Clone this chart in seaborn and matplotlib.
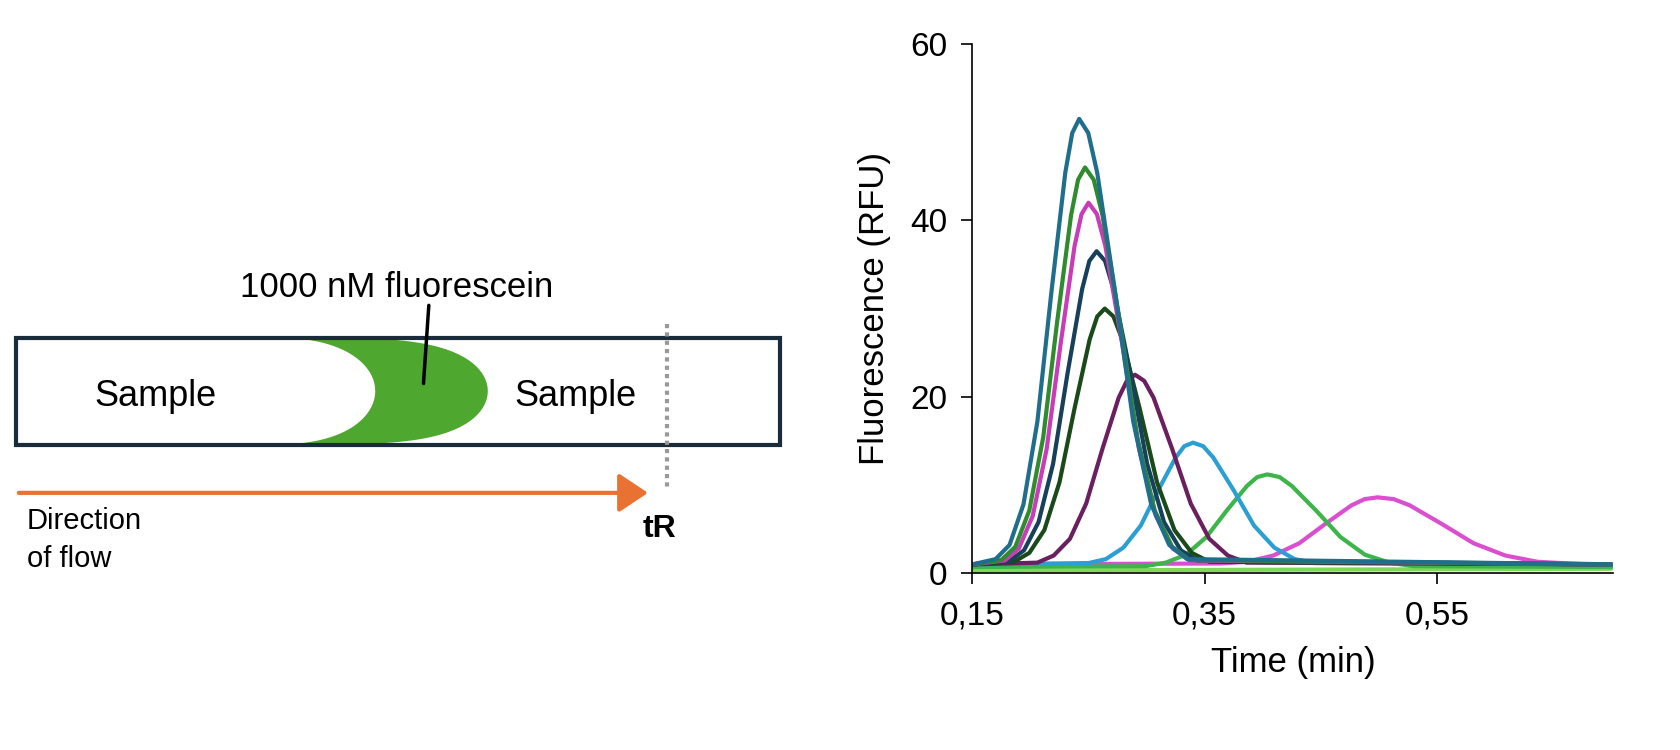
import matplotlib
matplotlib.use("Agg")
import matplotlib.pyplot as plt
import seaborn as sns
import numpy as np
import pandas as pd
from matplotlib.patches import Rectangle, Polygon, FancyArrowPatch

sns.set_style("white")
plt.rcParams['font.family'] = ['Liberation Sans', 'DejaVu Sans']
plt.rcParams['text.color'] = 'black'
plt.rcParams['xtick.color'] = 'black'
plt.rcParams['ytick.color'] = 'black'
plt.rcParams['axes.labelcolor'] = 'black'

# ---- data ----
s1_t = [0.15,0.170,0.182,0.194,0.206,0.218,0.230,0.236,0.242,0.2498,0.2575,0.273,0.2885,0.304,0.3195,0.335,0.70]
s1_v = [1,1.6,3.2,7.8,17.2,31.8,45.4,49.9,51.5,49.9,45.4,31.8,17.2,7.8,3.2,1.6,1]
s2_t = [0.15,0.175,0.187,0.199,0.211,0.223,0.235,0.241,0.247,0.2545,0.262,0.277,0.292,0.307,0.322,0.337,0.70]
s2_v = [1,1.5,3.0,7.1,15.4,28.5,40.6,44.6,46,44.6,40.6,28.5,15.4,7.1,3.0,1.5,1]
s3_t = [0.15,0.178,0.190,0.202,0.214,0.226,0.238,0.244,0.250,0.25725,0.2645,0.279,0.2935,0.308,0.3225,0.337,0.70]
s3_v = [1,1.45,2.8,6.5,14.1,26,37.1,40.7,42,40.7,37.1,26,14.1,6.5,2.8,1.45,1]
s4_t = [0.15,0.182,0.1945,0.207,0.2195,0.232,0.2445,0.25075,0.257,0.26425,0.2715,0.286,0.3005,0.315,0.3295,0.344,0.70]
s4_v = [1,1.4,2.6,5.8,12.4,22.7,32.2,35.4,36.5,35.4,32.2,22.7,12.4,5.8,2.6,1.4,1]
s5_t = [0.15,0.186,0.199,0.212,0.225,0.238,0.251,0.2575,0.264,0.2715,0.279,0.294,0.309,0.324,0.339,0.354,0.70]
s5_v = [1,1.3,2.3,4.9,10.3,18.7,26.5,29.1,30,29.1,26.5,18.7,10.3,4.9,2.3,1.3,1]
s6_t = [0.15,0.206,0.22,0.234,0.248,0.262,0.276,0.283,0.290,0.298,0.306,0.322,0.338,0.354,0.370,0.386,0.70]
s6_v = [1,1.2,2.0,3.9,7.9,14.1,19.9,21.8,22.5,21.8,19.9,14.1,7.9,3.9,2.0,1.2,1]
s7_t = [0.15,0.25,0.265,0.28,0.295,0.31,0.325,0.3325,0.340,0.34875,0.3575,0.375,0.3925,0.41,0.4275,0.445,0.70]
s7_v = [1,1.15,1.6,2.9,5.4,9.4,13.1,14.4,14.8,14.4,13.1,9.4,5.4,2.9,1.6,1.15,1]
s8_t = [0.15,0.299,0.3165,0.334,0.3515,0.369,0.3865,0.39525,0.404,0.4145,0.425,0.446,0.467,0.488,0.509,0.530,0.70]
s8_v = [0.7,0.8,1.2,2.1,4.1,7.1,9.9,10.9,11.2,10.9,9.9,7.1,4.1,2.1,1.2,0.8,0.7]
s9_t = [0.15,0.364,0.3865,0.409,0.4315,0.454,0.4765,0.48775,0.499,0.51275,0.5265,0.554,0.5815,0.609,0.6365,0.664,0.70]
s9_v = [1,1.1,1.3,2.0,3.4,5.6,7.7,8.4,8.6,8.4,7.7,5.6,3.4,2.0,1.3,1.1,1]
s10_t = [0.15,0.70]
s10_v = [0.3,0.5]

series = [
    ("s10", s10_t, s10_v, "#7ed957"),
    ("s9", s9_t, s9_v, "#d94fd0"),
    ("s8", s8_t, s8_v, "#3cb54a"),
    ("s7", s7_t, s7_v, "#2b9fd4"),
    ("s6", s6_t, s6_v, "#6b1f5e"),
    ("s5", s5_t, s5_v, "#1a4a1a"),
    ("s4", s4_t, s4_v, "#17405a"),
    ("s3", s3_t, s3_v, "#c83cb8"),
    ("s2", s2_t, s2_v, "#2e8b2e"),
    ("s1", s1_t, s1_v, "#1f6e8c"),
]
x_ticks = [0.15, 0.35, 0.55]
x_tick_labels = ["0,15", "0,35", "0,55"]
y_ticks = [0, 20, 40, 60]

fig = plt.figure(figsize=(16.81, 7.5), dpi=100)

# ---- diagram (coordinates in a 1568x700 frame) ----
d = fig.add_axes([0, 0, 1, 1])
d.set_xlim(0, 1568); d.set_ylim(700, 0); d.axis("off")
top, mid = 315, 365
ang = np.linspace(-np.pi/2, np.pi/2, 80)
outer = np.c_[250 + 205*np.cos(ang)**0.45, mid + 50*np.sin(ang)]
inner = np.c_[250 + 100*np.cos(ang[::-1])**0.8, mid + 50*np.sin(ang[::-1])]
d.add_patch(Polygon(np.vstack([outer, inner]), closed=True, color="#4ea72e", lw=0))
d.add_patch(Rectangle((15, top), 713, 100, fill=False, ec="#1a2b3a", lw=3))
d.text(145, 370, "Sample", fontsize=26, ha="center", va="center")
d.text(537, 370, "Sample", fontsize=26, ha="center", va="center")
d.text(370, 268, "1000 nM fluorescein", fontsize=25, ha="center", va="center")
d.plot([400, 395], [285, 358], color="black", lw=2.5)
d.plot([622, 622], [302, 455], color="#999999", lw=3, ls=(0, (1, 1)))
d.add_patch(FancyArrowPatch((15, 460), (607, 460), arrowstyle="-|>,head_length=12,head_width=8",
                            color="#e97132", lw=3, mutation_scale=1.5))
d.text(25, 473, "Direction\nof flow", fontsize=21, ha="left", va="top", linespacing=1.45)
d.text(615, 494, "tR", fontsize=23, fontweight="bold", ha="center", va="center")

# ---- chart ----
ax = fig.add_axes([907/1568, 1-535/700, (1505-907)/1568, (535-41)/700])
for name, t, v, c in series:
    df = pd.DataFrame({"t": t, "v": v})
    sns.lineplot(data=df, x="t", y="v", ax=ax, color=c, lw=3,
                 solid_joinstyle="round", solid_capstyle="round")
ax.set_xlim(0.15, 0.702); ax.set_ylim(0, 60)
ax.set_xticks(x_ticks); ax.set_xticklabels(x_tick_labels)
ax.set_yticks(y_ticks)
for s in ["top", "right"]:
    ax.spines[s].set_visible(False)
for s in ["left", "bottom"]:
    ax.spines[s].set_color("black"); ax.spines[s].set_linewidth(1.2)
ax.tick_params(axis="both", labelsize=24, length=8, width=1.2, direction="out", left=True, bottom=True)
ax.tick_params(axis="x", pad=12)
ax.tick_params(axis="y", pad=10)
ax.set_xlabel("Time (min)", fontsize=25, labelpad=10)
ax.set_ylabel("Fluorescence (RFU)", fontsize=25, labelpad=14)

fig.savefig("out.png", dpi=100)
